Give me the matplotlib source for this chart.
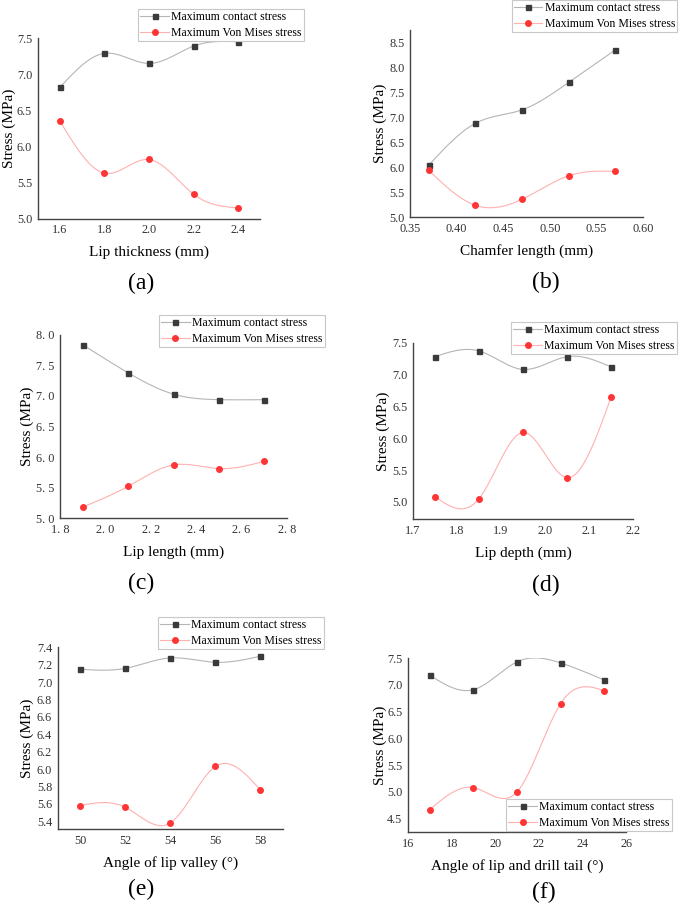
import numpy as np
import matplotlib.pyplot as plt
from matplotlib.ticker import FixedLocator, FixedFormatter

# =====================
# STYLE
# =====================
plt.rcParams.update({
    "font.family": "Liberation Serif",
    "font.size": 8.5,
    "axes.linewidth": 1.0,
    "axes.edgecolor": "#444444",
})

# =====================
# DATA
# =====================
lip_thickness = [1.6, 1.8, 2.0, 2.2, 2.4]
a_contact = [6.82, 7.29, 7.15, 7.39, 7.45]
a_vonmises = [6.35, 5.63, 5.82, 5.34, 5.15]

chamfer_length = [0.37, 0.42, 0.47, 0.52, 0.57]
b_contact = [6.04, 6.88, 7.15, 7.70, 8.35]
b_vonmises = [5.94, 5.24, 5.36, 5.83, 5.92]

lip_length = [1.9, 2.1, 2.3, 2.5, 2.7]
c_contact = [7.84, 7.38, 7.03, 6.94, 6.94]
c_vonmises = [5.18, 5.52, 5.87, 5.81, 5.93]

lip_depth = [1.75, 1.85, 1.95, 2.05, 2.15]
d_contact = [7.28, 7.37, 7.08, 7.28, 7.12]
d_vonmises = [5.08, 5.05, 6.09, 5.38, 6.64]

valley_angle = [50, 52, 54, 56, 58]
e_contact = [7.15, 7.16, 7.28, 7.23, 7.30]
e_vonmises = [5.58, 5.56, 5.38, 6.03, 5.76]

tail_angle = [17, 19, 21, 23, 25]
f_contact = [7.18, 6.91, 7.43, 7.41, 7.09]
f_vonmises = [4.67, 5.08, 5.00, 6.65, 6.89]

a_xticks = ["1.6", "1.8", "2.0", "2.2", "2.4"]
a_yticks = ["5.0", "5.5", "6.0", "6.5", "7.0", "7.5"]
b_xticks = ["0.35", "0.40", "0.45", "0.50", "0.55", "0.60"]
b_yticks = ["5.0", "5.5", "6.0", "6.5", "7.0", "7.5", "8.0", "8.5"]
c_xticks = ["1. 8", "2. 0", "2. 2", "2. 4", "2. 6", "2. 8"]
c_yticks = ["5. 0", "5. 5", "6. 0", "6. 5", "7. 0", "7. 5", "8. 0"]
d_xticks = ["1.7", "1.8", "1.9", "2.0", "2.1", "2.2"]
d_yticks = ["5.0", "5.5", "6.0", "6.5", "7.0", "7.5"]
e_xticks = ["50", "52", "54", "56", "58"]
e_yticks = ["5.4", "5.6", "5.8", "6.0", "6.2", "6.4", "6.6", "6.8", "7.0", "7.2", "7.4"]
f_xticks = ["16", "18", "20", "22", "24", "26"]
f_yticks = ["4.5", "5.0", "5.5", "6.0", "6.5", "7.0", "7.5"]

legend_labels = ["Maximum contact stress", "Maximum Von Mises stress"]

CONTACT_LINE = "#b5b5b5"
CONTACT_MARK = "#3a3a3a"
VM_LINE = "#ffb0b0"
VM_MARK = "#ff3535"


# =====================
# natural cubic spline for the connecting line
# =====================
def spline_line(x, y, n=200):
    x = np.asarray(x, float)
    y = np.asarray(y, float)
    k = len(x)
    h = np.diff(x)
    A = np.zeros((k, k))
    r = np.zeros(k)
    A[0, 0] = A[-1, -1] = 1.0
    for i in range(1, k - 1):
        A[i, i - 1] = h[i - 1]
        A[i, i] = 2 * (h[i - 1] + h[i])
        A[i, i + 1] = h[i]
        r[i] = 6 * ((y[i + 1] - y[i]) / h[i] - (y[i] - y[i - 1]) / h[i - 1])
    M = np.linalg.solve(A, r)
    xs = np.linspace(x[0], x[-1], n)
    idx = np.clip(np.searchsorted(x, xs) - 1, 0, k - 2)
    x0, x1 = x[idx], x[idx + 1]
    hh = x1 - x0
    t0, t1 = x1 - xs, xs - x0
    ys = (M[idx] * t0 ** 3 + M[idx + 1] * t1 ** 3) / (6 * hh) \
        + (y[idx] / hh - M[idx] * hh / 6) * t0 \
        + (y[idx + 1] / hh - M[idx + 1] * hh / 6) * t1
    return xs, ys


fig = plt.figure(figsize=(6.85, 9.09), dpi=100)

panels = [
    # x, contact, vm, rect, xlim, ylim, xticks, yticks, xlabel, tag, tag pos (px), legend anchor, ylabel x
    (lip_thickness, a_contact, a_vonmises, [0.055, 0.7594, 0.325, 0.1986],
     (1.5, 2.5), (5.0, 7.5), a_xticks, a_yticks, "Lip thickness (mm)", "(a)",
     (141, 283), (0.2015, 0.990), -0.128),
    (chamfer_length, b_contact, b_vonmises, [0.5985, 0.761, 0.3405, 0.206],
     (0.35, 0.60), (5.0, 8.75), b_xticks, b_yticks, "Chamfer length (mm)", "(b)",
     (546, 282), (0.747, 1.0), -0.129),
    (lip_length, c_contact, c_vonmises, [0.0876, 0.4301, 0.3314, 0.2014],
     (1.8, 2.8), (5.0, 8.0), c_xticks, c_yticks, "Lip length (mm)", "(c)",
     (141, 583), (0.232, 0.6535), -0.145),
    (lip_depth, d_contact, d_vonmises, [0.603, 0.429, 0.321, 0.194],
     (1.7, 2.2), (4.73, 7.5), d_xticks, d_yticks, "Lip depth (mm)", "(d)",
     (546, 585), (0.746, 0.6458), -0.136),
    (valley_angle, e_contact, e_vonmises, [0.0842, 0.088, 0.3288, 0.2006],
     (49, 59), (5.31, 7.41), e_xticks, e_yticks, "Angle of lip valley (°)", "(e)",
     (141, 889), (0.2307, 0.3212), -0.136),
    (tail_angle, f_contact, f_vonmises, [0.5956, 0.0847, 0.3184, 0.1913],
     (16, 26), (4.25, 7.5), f_xticks, f_yticks, "Angle of lip and drill tail (°)", "(f)",
     (544, 892), (0.7387, 0.121), -0.128),
]

W, H = 685, 909

for x, contact, vm, rect, xlim, ylim, xt, yt, xlabel, tag, tag_px, leg_anchor, ylx in panels:
    ax = fig.add_axes(rect)

    xs, ys = spline_line(x, contact)
    ax.plot(xs, ys, color=CONTACT_LINE, lw=0.8, zorder=2)
    ax.plot(x, contact, "s", color=CONTACT_MARK, ms=3.6, zorder=3)
    xs, ys = spline_line(x, vm)
    ax.plot(xs, ys, color=VM_LINE, lw=0.8, zorder=2)
    ax.plot(x, vm, "o", color=VM_MARK, ms=4.0, zorder=3)

    # legend proxies (line + marker)
    h1, = ax.plot([], [], "-s", color=CONTACT_LINE, mfc=CONTACT_MARK,
                  mec=CONTACT_MARK, ms=3.6, lw=0.8)
    h2, = ax.plot([], [], "-o", color=VM_LINE, mfc=VM_MARK,
                  mec=VM_MARK, ms=4.0, lw=0.8)

    ax.set_xlim(*xlim)
    ax.set_ylim(*ylim)
    ax.xaxis.set_major_locator(FixedLocator([float(t.replace(" ", "")) for t in xt]))
    ax.xaxis.set_major_formatter(FixedFormatter(xt))
    ax.yaxis.set_major_locator(FixedLocator([float(t.replace(" ", "")) for t in yt]))
    ax.yaxis.set_major_formatter(FixedFormatter(yt))

    ax.tick_params(length=0, pad=4, labelsize=8.8, colors="#333333")
    for s in ("top", "right"):
        ax.spines[s].set_visible(False)

    ax.set_xlabel(xlabel, fontsize=11, labelpad=7)
    ax.set_ylabel("Stress (MPa)", fontsize=11, va="center")
    ax.yaxis.set_label_coords(ylx, 0.5)

    leg = ax.legend([h1, h2], legend_labels, loc="upper left",
                    bbox_to_anchor=leg_anchor, bbox_transform=fig.transFigure,
                    fontsize=8.5, frameon=True, fancybox=False, framealpha=1,
                    edgecolor="#c8c8c8", handlelength=2.4, handletextpad=0.2,
                    labelspacing=0.3, borderpad=0.2, borderaxespad=0)
    leg.get_frame().set_linewidth(0.8)

    # panel tag below the axes
    fig.text(tag_px[0] / W, 1 - tag_px[1] / H, tag, fontsize=17,
             ha="center", va="center")

fig.savefig("out.png", dpi=100)
